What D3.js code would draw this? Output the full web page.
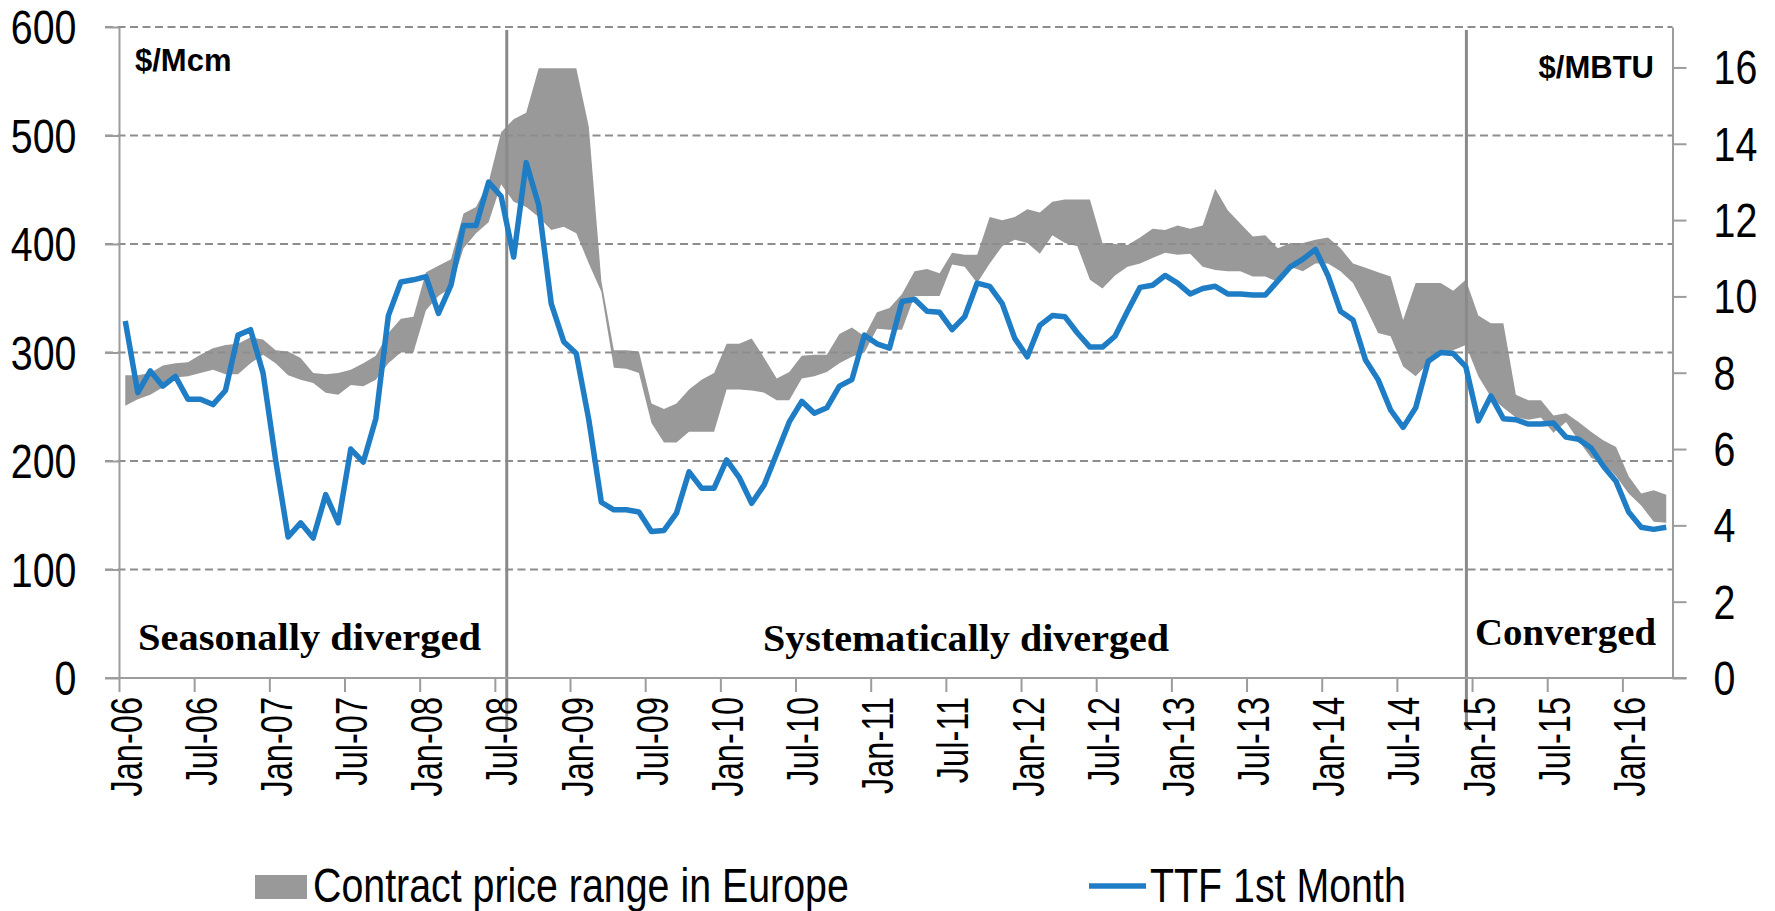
<!DOCTYPE html>
<html>
<head>
<meta charset="UTF-8">
<title>Contract price range in Europe vs TTF</title>
<style>
  body { margin: 0; background: #fff; }
  svg { display: block; }
  .lbl { font-family: 'Liberation Sans', Arial, sans-serif; font-size: 48px; fill: #000; }
  .xlbl { font-family: 'Liberation Sans', Arial, sans-serif; font-size: 44px; fill: #000; }
  .unit { font-family: 'Liberation Sans', Arial, sans-serif; font-size: 31px; font-weight: bold; fill: #000; }
  .region { font-family: 'Liberation Serif', 'Times New Roman', serif; font-size: 38px; font-weight: bold; fill: #000; }
  .grid { stroke: #8d8d8d; stroke-width: 2; stroke-dasharray: 8 4.5; }
  .axis path, .axis line { stroke: #9c9c9c; stroke-width: 2; }
</style>
</head>
<body>
<script src="https://cdnjs.cloudflare.com/ajax/libs/d3/7.8.5/d3.min.js"></script>
<script>
/// data, monthly Jan-06 .. Apr-16

var months = d3.timeMonth.range(new Date(2006, 0, 1), new Date(2016, 4, 1));

var tickLabels = ["Jan-06","Jul-06","Jan-07","Jul-07","Jan-08","Jul-08","Jan-09","Jul-09",
  "Jan-10","Jul-10","Jan-11","Jul-11","Jan-12","Jul-12","Jan-13","Jul-13",
  "Jan-14","Jul-14","Jan-15","Jul-15","Jan-16"];

// TTF 1st month, $/Mcm
var ttf = [329,263,283,269,278,257,257,252,265,316,321,281,
  201,130,143,129,169,143,211,199,239,334,365,367,
  370,336,362,417,417,457,444,388,475,436,345,310,
  299,238,162,155,155,153,135,136,152,190,175,175,
  201,185,161,178,207,236,255,244,249,269,275,316,
  308,304,347,349,338,337,321,333,364,361,345,313,
  296,325,334,333,318,305,305,315,338,360,362,371,
  364,354,359,361,354,354,353,353,366,379,386,395,
  371,338,330,293,275,247,231,249,292,300,299,287,
  237,260,239,238,234,234,235,222,220,212,195,181,
  153,139,137,139];

// contract price range in Europe, $/Mcm
var rangeHigh = [279,279,281,288,290,291,298,304,307,308,314,312,
  302,301,295,281,280,281,284,290,297,318,331,333,
  374,380,386,428,434,457,503,515,521,562,562,562,
  562,508,366,302,302,301,253,248,253,266,275,281,
  308,308,313,295,276,282,297,298,298,317,323,315,
  337,341,354,375,377,373,392,390,390,425,422,425,
  432,429,439,441,441,441,401,400,399,406,414,413,
  417,414,417,451,431,419,407,408,396,401,401,404,
  406,396,382,378,374,370,330,364,364,364,357,367,
  334,327,327,261,256,256,242,244,236,227,219,213,
  186,170,173,169];

var rangeLow = [251,257,261,268,277,278,281,284,280,280,290,298,
  290,279,275,272,263,261,270,269,275,290,300,300,
  339,352,360,396,410,420,455,439,434,425,413,416,
  410,382,356,286,285,281,235,217,217,227,227,227,
  266,266,265,263,256,256,276,278,282,290,296,300,
  322,321,321,352,352,352,381,379,364,382,398,404,
  401,391,408,401,398,367,359,371,379,382,387,392,
  390,391,379,376,375,375,370,370,365,379,375,382,
  382,375,364,342,318,315,287,278,290,298,302,307,
  278,259,249,240,238,240,226,236,219,203,198,186,
  170,159,144,143];

var leftTicks = [0, 100, 200, 300, 400, 500, 600];
var rightTicks = [0, 2, 4, 6, 8, 10, 12, 14, 16];

// phase dividers, in month units from Jan-06
var dividers = [30.95, 107.55];
var regions = [
  {text: "Seasonally diverged", x: 138, y: 650, w: 343},
  {text: "Systematically diverged", x: 763, y: 651, w: 406},
  {text: "Converged", x: 1475, y: 645, w: 181}
];

/// layout

var width = 1775, height = 911;
var plotL = 119, plotR = 1672.5, plotT = 27, plotB = 678;
var mcmPerMbtu = 35.17;

var svg = d3.select("body").append("svg")
    .attr("width", width)
    .attr("height", height);

var x = d3.scaleLinear().domain([0, months.length]).range([plotL, plotR]);
var y = d3.scaleLinear().domain([0, 600]).range([plotB, plotT]);
var y2 = d3.scaleLinear().domain([0, 600 / mcmPerMbtu]).range([plotB, plotT]);

// narrow-looking text (Arial Narrow in the original)
function narrow(sel, dx, dy) {
  sel.attr("x", null).attr("y", null).attr("dy", null)
     .attr("class", "lbl")
     .attr("transform", "translate(" + dx + "," + dy + ") scale(0.82,1)");
}

// band
var area = d3.area()
    .x(function(d, i) { return x(i + 0.5); })
    .y0(function(d, i) { return y(rangeLow[i]); })
    .y1(function(d) { return y(d); });

svg.append("path")
    .datum(rangeHigh)
    .attr("d", area)
    .attr("fill", "#999999");

// gridlines
svg.append("g").selectAll("line")
  .data(leftTicks.slice(1))
  .enter().append("line")
    .attr("class", "grid")
    .attr("x1", plotL - 14).attr("x2", plotR)
    .attr("y1", function(d) { return y(d); })
    .attr("y2", function(d) { return y(d); });

// phase dividers
svg.append("g").selectAll("line")
  .data(dividers)
  .enter().append("line")
    .attr("x1", function(d) { return x(d); })
    .attr("x2", function(d) { return x(d); })
    .attr("y1", 30).attr("y2", 730)
    .attr("stroke", "#8a8a8a")
    .attr("stroke-width", 3);

// TTF line
var line = d3.line()
    .x(function(d, i) { return x(i + 0.5); })
    .y(function(d) { return y(d); });

svg.append("path")
    .datum(ttf)
    .attr("d", line)
    .attr("fill", "none")
    .attr("stroke", "#1f7dc6")
    .attr("stroke-width", 5.5)
    .attr("stroke-linejoin", "round");

// left axis
var gL = svg.append("g")
    .attr("class", "axis")
    .attr("transform", "translate(" + plotL + ",0)")
    .call(d3.axisLeft(y).tickValues(leftTicks).tickSize(14).tickSizeOuter(0));
gL.selectAll(".tick text").call(narrow, -42.5, 16.5).attr("text-anchor", "end");

// right axis
var gR = svg.append("g")
    .attr("class", "axis")
    .attr("transform", "translate(" + plotR + ",0)")
    .call(d3.axisRight(y2).tickValues(rightTicks).tickSize(14).tickSizeOuter(0));
gR.selectAll(".tick text").call(narrow, 41, 16.5).attr("text-anchor", "start");

// x axis
var gX = svg.append("g")
    .attr("class", "axis")
    .attr("transform", "translate(0," + plotB + ")")
    .call(d3.axisBottom(x)
      .tickValues(d3.range(0, 121, 6))
      .tickFormat(function(d, k) { return tickLabels[k]; })
      .tickSize(14).tickSizeOuter(0));
gX.select(".domain").attr("d", "M" + (plotL - 14) + ",0H" + (plotR + 14));
gX.selectAll(".tick text")
    .attr("x", null).attr("y", null).attr("dy", "0.358em")
    .attr("class", "xlbl")
    .attr("text-anchor", "end")
    .attr("transform", "translate(" + (x(0.5) - x(0)) + ",19) rotate(-90) scale(0.74,1)");

// units
svg.append("text").attr("class", "unit")
    .attr("x", 135).attr("y", 71).text("$/Mcm");
svg.append("text").attr("class", "unit")
    .attr("x", 1654).attr("y", 78).attr("text-anchor", "end").text("$/MBTU");

// phase labels
svg.append("g").selectAll("text")
  .data(regions)
  .enter().append("text")
    .attr("class", "region")
    .attr("x", function(d) { return d.x; })
    .attr("y", function(d) { return d.y; })
    .attr("textLength", function(d) { return d.w; })
    .attr("lengthAdjust", "spacingAndGlyphs")
    .text(function(d) { return d.text; });

// legend
var legend = svg.append("g").attr("class", "legend");
legend.append("rect")
    .attr("x", 255).attr("y", 875).attr("width", 52).attr("height", 24)
    .attr("fill", "#999999");
legend.append("text").call(narrow, 313, 902).text("Contract price range in Europe");
legend.append("line")
    .attr("x1", 1089).attr("x2", 1146).attr("y1", 886).attr("y2", 886)
    .attr("stroke", "#1f7dc6").attr("stroke-width", 5.5);
legend.append("text").call(narrow, 1150, 902).text("TTF 1st Month");
</script>
</body>
</html>
